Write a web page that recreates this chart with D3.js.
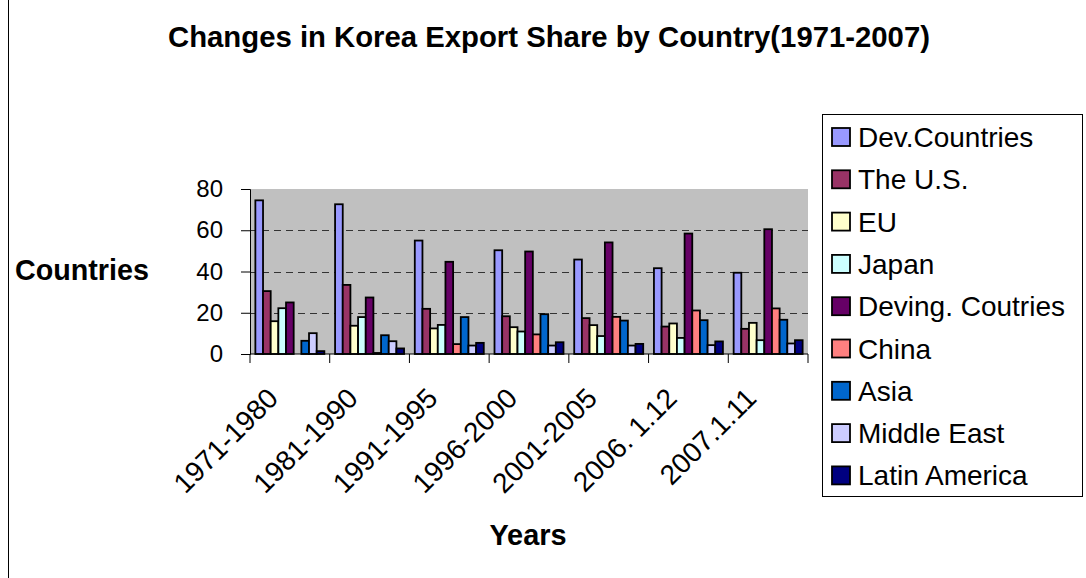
<!DOCTYPE html>
<html>
<head>
<meta charset="utf-8">
<script src="https://cdn.jsdelivr.net/npm/d3@7"></script>
<style>
  body { margin: 0; background: #fff; }
  svg { display: block; font-family: Arial, "Liberation Sans", sans-serif; }
</style>
</head>
<body>
<svg id="chart"></svg>
<script>
// data
var categories = ["1971-1980", "1981-1990", "1991-1995", "1996-2000", "2001-2005", "2006. 1.12", "2007.1.11"];
var seriesNames = ["Dev.Countries", "The U.S.", "EU", "Japan", "Deving. Coutries", "China", "Asia", "Middle East", "Latin America"];
var devCountries    = [74.5, 72.6, 55.0, 50.3, 45.8, 41.6, 39.4];
var theUS           = [30.5, 33.5, 21.9, 18.3, 17.4, 13.3, 12.2];
var eu              = [15.9, 13.7, 12.4, 13.0, 14.0, 14.8, 15.1];
var japan           = [22.2, 17.9, 14.1, 10.9, 8.7, 7.8, 6.7];
var devingCountries = [25.0, 27.4, 44.7, 49.7, 54.1, 58.4, 60.5];
var china           = [0, 0.5, 4.8, 9.5, 18.0, 21.1, 22.1];
var asia            = [6.4, 9.1, 17.9, 19.3, 16.2, 16.4, 16.6];
var middleEast      = [10.1, 6.2, 4.1, 4.1, 4.1, 4.3, 5.1];
var latinAmerica    = [1.4, 2.7, 5.4, 5.7, 4.9, 6.1, 6.7];
var yTicks = [0, 20, 40, 60, 80];
var colors = ["#9999FF", "#993366", "#FFFFCC", "#CCFFFF", "#660066", "#FF8080", "#0066CC", "#CCCCFF", "#000080"];

var seriesValues = [devCountries, theUS, eu, japan, devingCountries, china, asia, middleEast, latinAmerica];

var W = 1086, H = 578;
var plot = {left: 250, right: 808, top: 189, bottom: 354};

var svg = d3.select("#chart").attr("width", W).attr("height", H);

// outer chart border (only left edge falls inside the crop)
svg.append("rect")
  .attr("x", 8.5).attr("y", -5)
  .attr("width", 1100).attr("height", 600)
  .attr("fill", "none").attr("stroke", "#000").attr("stroke-width", 1);

var x0 = d3.scaleBand().domain(categories).range([plot.left, plot.right]);
var x1 = d3.scaleBand().domain(seriesNames).range([0, x0.bandwidth()]).paddingOuter(0.7);
var y = d3.scaleLinear().domain([0, 80]).range([plot.bottom, plot.top]);
var color = d3.scaleOrdinal().domain(seriesNames).range(colors);

// plot area
svg.append("rect")
  .attr("x", plot.left).attr("y", plot.top)
  .attr("width", plot.right - plot.left).attr("height", plot.bottom - plot.top)
  .attr("fill", "#C0C0C0");

// gridlines
svg.append("g").selectAll("line")
  .data(yTicks.filter(function(d) { return d > 0 && d < 80; }))
  .enter().append("line")
  .attr("x1", plot.left).attr("x2", plot.right)
  .attr("y1", function(d) { return Math.round(y(d)) + 0.5; })
  .attr("y2", function(d) { return Math.round(y(d)) + 0.5; })
  .attr("stroke", "#333").attr("stroke-width", 1)
  .attr("stroke-dasharray", "7,5");

// bars
var rows = categories.map(function(c, i) {
  return seriesNames.map(function(s, j) { return {cat: c, name: s, value: seriesValues[j][i]}; });
});

svg.append("g").selectAll("g")
  .data(rows)
  .enter().append("g")
  .attr("transform", function(d, i) { return "translate(" + x0(categories[i]) + ",0)"; })
  .selectAll("rect")
  .data(function(d) { return d; })
  .enter().append("rect")
  .attr("x", function(d) { return x1(d.name); })
  .attr("width", x1.bandwidth())
  .attr("y", function(d) { return y(d.value); })
  .attr("height", function(d) { return y(0) - y(d.value); })
  .attr("fill", function(d) { return color(d.name); })
  .attr("stroke", "#000")
  .attr("stroke-width", 1.8);

// y axis
var yAxis = svg.append("g")
  .attr("transform", "translate(" + plot.left + ",0)")
  .call(d3.axisLeft(y).tickValues(yTicks).tickSize(9).tickPadding(18));
yAxis.select(".domain").attr("stroke", "#000");
yAxis.selectAll("text").attr("font-size", 24).attr("fill", "#000").attr("font-family", "Arial, 'Liberation Sans', sans-serif");

// x axis
var xAxis = svg.append("g")
  .attr("transform", "translate(0," + plot.bottom + ")");
xAxis.append("line")
  .attr("x1", plot.left).attr("x2", plot.right)
  .attr("stroke", "#000");
xAxis.selectAll(".tk")
  .data(d3.range(categories.length + 1))
  .enter().append("line")
  .attr("x1", function(i) { return plot.left + i * x0.step(); })
  .attr("x2", function(i) { return plot.left + i * x0.step(); })
  .attr("y1", 0).attr("y2", 9)
  .attr("stroke", "#000");
xAxis.selectAll("text")
  .data(categories)
  .enter().append("text")
  .attr("transform", function(d) {
    return "translate(" + (x0(d) + x0.bandwidth() / 2 - 10) + ",46) rotate(-45)";
  })
  .attr("text-anchor", "end")
  .attr("font-size", 28)
  .text(function(d) { return d; });

// titles
svg.append("text")
  .attr("x", 549).attr("y", 47)
  .attr("text-anchor", "middle")
  .attr("font-size", 29.3).attr("font-weight", "bold")
  .text("Changes in Korea Export Share by Country(1971-2007)");

svg.append("text")
  .attr("x", 15).attr("y", 280)
  .attr("font-size", 28.7).attr("font-weight", "bold")
  .text("Countries");

svg.append("text")
  .attr("x", 528).attr("y", 545)
  .attr("text-anchor", "middle")
  .attr("font-size", 28.9).attr("font-weight", "bold")
  .text("Years");

// legend
var legend = svg.append("g");
legend.append("rect")
  .attr("x", 822.5).attr("y", 114.5)
  .attr("width", 260).attr("height", 382)
  .attr("fill", "#fff").attr("stroke", "#000");

var items = legend.selectAll(".item")
  .data(seriesNames)
  .enter().append("g")
  .attr("transform", function(d, i) { return "translate(832," + (137 + i * 42.3) + ")"; });
items.append("rect")
  .attr("x", 0).attr("y", -9)
  .attr("width", 18).attr("height", 18)
  .attr("fill", function(d) { return color(d); })
  .attr("stroke", "#000").attr("stroke-width", 1.8);
items.append("text")
  .attr("x", 26).attr("y", 10)
  .attr("font-size", 28)
  .text(function(d) { return d; });
</script>
</body>
</html>
